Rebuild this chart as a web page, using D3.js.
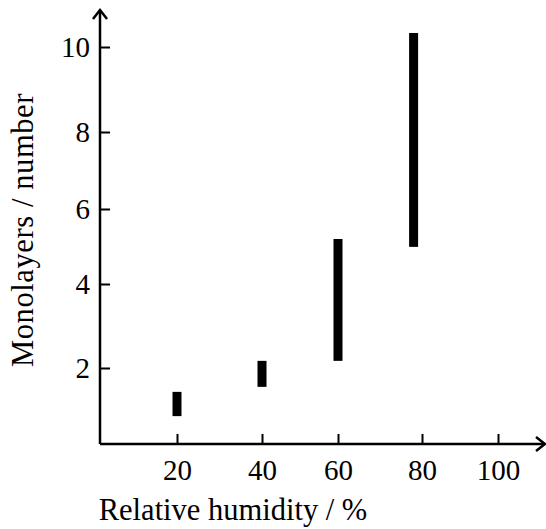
<!DOCTYPE html>
<html>
<head>
<meta charset="utf-8">
<script src="https://cdn.jsdelivr.net/npm/d3@7"></script>
<style>
  html, body { margin: 0; padding: 0; background: #fff; }
  svg { display: block; }
  text { font-family: "Liberation Serif", "Times New Roman", serif; fill: #000; }
</style>
</head>
<body>
<svg id="chart" width="546" height="529"></svg>
<script>
// ---- data ----
const humidity = [20, 40, 60, 78];          // % relative humidity of each bar
const monolayersLow = [0.75, 1.51, 2.17, 4.99];
const monolayersHigh = [1.38, 2.17, 5.2, 10.33];
const xTicks = [20, 40, 60, 80, 100];
const yTicks = [2, 4, 6, 8, 10];
const xTitle = "Relative humidity / %";
const yTitle = "Monolayers / number";

const svg = d3.select("#chart");

// piecewise-linear scales follow the reference's hand-placed tick spacing
const x = d3.scaleLinear()
  .domain([0, 20, 40, 60, 80, 100])
  .range([100, 177, 262, 338, 422, 498]);
const y = d3.scaleLinear()
  .domain([0, 2, 4, 6, 8, 10])
  .range([445, 368, 284, 209, 132, 47]);

const axisX0 = 100, axisY0 = 444;
const tickFontPx = 29;
const titleFontPx = 30.5;

// axes
const gx = svg.append("g")
  .attr("transform", `translate(0,${axisY0})`)
  .call(d3.axisBottom(x).tickValues(xTicks).tickSizeInner(-10).tickSizeOuter(0).tickPadding(15));
const gy = svg.append("g")
  .attr("transform", `translate(${axisX0},0)`)
  .call(d3.axisLeft(y).tickValues(yTicks).tickSizeInner(-10).tickSizeOuter(0).tickPadding(10));

[gx, gy].forEach(g => {
  g.select(".domain").remove();
  g.selectAll(".tick line").attr("stroke", "#000").attr("stroke-width", 2);
  g.selectAll(".tick text")
    .attr("fill", "#000")
    .style("font-family", '"Liberation Serif", "Times New Roman", serif')
    .style("font-size", tickFontPx + "px");
});

// axis lines with open arrowheads
const axes = svg.append("g").attr("stroke", "#000").attr("stroke-width", 2.5).attr("fill", "none");
axes.append("line").attr("x1", axisX0).attr("y1", axisY0).attr("x2", 545).attr("y2", axisY0);
axes.append("line").attr("x1", axisX0).attr("y1", axisY0).attr("x2", axisX0).attr("y2", 10);
axes.append("path").attr("d", `M${axisX0 - 7},${19} L${axisX0},${10} L${axisX0 + 7},${19}`)
  .attr("stroke-linejoin", "miter");
axes.append("path").attr("d", `M${536},${axisY0 - 7} L${545},${axisY0} L${536},${axisY0 + 7}`)
  .attr("stroke-linejoin", "miter");

// range bars
const barW = 9;
svg.append("g").selectAll("rect")
  .data(humidity.map((h, i) => ({ h, lo: monolayersLow[i], hi: monolayersHigh[i] })))
  .join("rect")
  .attr("x", d => x(d.h) - barW / 2)
  .attr("width", barW)
  .attr("y", d => y(d.hi))
  .attr("height", d => y(d.lo) - y(d.hi))
  .attr("fill", "#000");

// titles
svg.append("text")
  .attr("x", 233).attr("y", 520)
  .attr("text-anchor", "middle")
  .style("font-size", titleFontPx + "px")
  .text(xTitle);
svg.append("text")
  .attr("transform", "translate(33,230) rotate(-90)")
  .attr("text-anchor", "middle")
  .style("font-size", titleFontPx + "px")
  .style("letter-spacing", "0.6px")
  .text(yTitle);
</script>
</body>
</html>
